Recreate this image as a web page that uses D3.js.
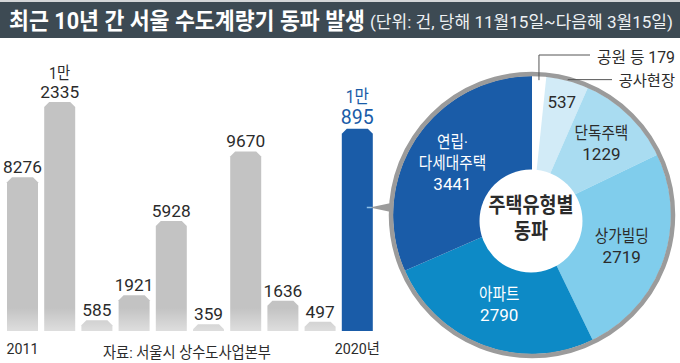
<!DOCTYPE html>
<html>
<head>
<meta charset="utf-8">
<script src="https://cdn.jsdelivr.net/npm/d3@7"></script>
<style>
  body { margin: 0; background: #fff; }
  svg { display: block; font-family: Roboto, "Noto Sans CJK KR", sans-serif; }
</style>
</head>
<body>
<svg id="chart" width="680" height="363"></svg>
<script>
// yearly counts, winter season
const years = ["2011", "2012", "2013", "2014", "2015", "2016", "2017", "2018", "2019", "2020"];
const counts = [8276, 12335, 585, 1921, 5928, 359, 9670, 1636, 497, 10895];
const yearLabels = { "2011": "2011", "2020": "2020년" };

// 2020 breakdown by building type
const types = ["공원 등", "공사현장", "단독주택", "상가빌딩", "아파트", "연립·다세대주택"];
const typeCounts = [179, 537, 1229, 2719, 2790, 3441];
const typeColors = ["#ffffff", "#d2ebf7", "#a9dcf1", "#80cdec", "#0d8ac6", "#1a5ca8"];

const title = "최근 10년 간 서울 수도계량기 동파 발생";
const subtitle = "(단위: 건, 당해 11월15일~다음해 3월15일)";
const source = "자료: 서울시 상수도사업본부";

const svg = d3.select("#chart");
const dark = "#2b2b2b";
const blue = "#1a5ca8";

// the original face is a narrow gothic, squeeze hangul a bit
function squeeze(sel, k) {
  sel.each(function() {
    const w = this.getComputedTextLength();
    d3.select(this).attr("textLength", w * k).attr("lengthAdjust", "spacingAndGlyphs");
  });
}

// header band
svg.append("rect").attr("x", 0).attr("y", 0).attr("width", 680).attr("height", 2).attr("fill", "#d4d6d8");
svg.append("rect").attr("x", 0).attr("y", 2).attr("width", 680).attr("height", 36).attr("fill", "#3d4a53");
svg.append("text").attr("x", 9).attr("y", 29)
  .attr("font-size", 23).attr("font-weight", 700).attr("fill", "#fff")
  .attr("textLength", 356).attr("lengthAdjust", "spacingAndGlyphs")
  .text(title);
svg.append("text").attr("x", 370).attr("y", 28)
  .attr("font-size", 16.5).attr("fill", "#eef1f3")
  .attr("textLength", 303).attr("lengthAdjust", "spacingAndGlyphs")
  .text(subtitle);

// ---- bars ----
const base = 331;
const x = d3.scaleBand().domain(years).range([7, 372.8]).paddingInner(0.1667).paddingOuter(0);
const y = d3.scaleLinear().domain([0, d3.max(counts)]).range([base, 102]);
const cut = 5;

const defs = svg.append("defs");
const haze = defs.append("linearGradient").attr("id", "haze")
  .attr("x1", 0).attr("x2", 0).attr("y1", 0).attr("y2", 1);
haze.append("stop").attr("offset", "0%").attr("stop-color", "#fff").attr("stop-opacity", 0);
haze.append("stop").attr("offset", "100%").attr("stop-color", "#fff").attr("stop-opacity", 0.45);

function barPath(d, i) {
  const x0 = x(years[i]), w = x.bandwidth(), t = y(d);
  const c = Math.min(cut, (base - t));
  return `M${x0},${base}L${x0},${t + c}L${x0 + c},${t}L${x0 + w - c},${t}L${x0 + w},${t + c}L${x0 + w},${base}Z`;
}

const last = counts.length - 1;
svg.append("g").selectAll("path").data(counts).join("path")
  .attr("d", barPath)
  .attr("fill", (d, i) => i === last ? blue : "#c3c3c3");

svg.append("rect").attr("x", 0).attr("y", 308).attr("width", x(years[last]) - 4)
  .attr("height", base - 308).attr("fill", "url(#haze)");

// value labels, 만 on its own line
const lbl = svg.append("g").attr("text-anchor", "middle");
counts.forEach((v, i) => {
  const cx = x(years[i]) + x.bandwidth() / 2;
  const hi = i === last;
  const fs = hi ? 19.5 : 17.3;
  const col = hi ? blue : dark;
  const t = y(v) - (hi ? 5 : 4);
  if (v >= 10000) {
    lbl.append("text").attr("x", cx).attr("y", t).attr("font-size", fs).attr("fill", col).text(String(v % 10000));
    lbl.append("text").attr("x", cx).attr("y", t - (hi ? 21 : 19.5)).attr("font-size", hi ? 18 : 16.5).attr("fill", col)
      .text(Math.floor(v / 10000) + "만")
      .call(squeeze, 0.87);
  } else {
    lbl.append("text").attr("x", cx).attr("y", t).attr("font-size", fs).attr("fill", col).text(String(v));
  }
});

svg.append("g").attr("text-anchor", "middle").selectAll("text")
  .data(years.filter(d => yearLabels[d])).join("text")
  .attr("x", d => x(d) + x.bandwidth() / 2).attr("y", 354)
  .attr("font-size", 15).attr("fill", dark)
  .text(d => yearLabels[d])
  .call(squeeze, 0.95);

svg.append("text").attr("x", 187).attr("y", 358).attr("text-anchor", "middle")
  .attr("font-size", 15.5).attr("fill", dark).text(source)
  .call(squeeze, 0.92);

// ---- donut ----
const cx = 532, cy = 215, R = 139;
const pie = d3.pie().sort(null).value(d => d.v);
const slices = pie(types.map((t, i) => ({ t, v: typeCounts[i], c: typeColors[i] })));
const arc = d3.arc().innerRadius(0).outerRadius(R);

// pointer from the 2020 bar to the donut
const px = x(years[last]) + x.bandwidth();
svg.append("path")
  .attr("d", `M${px - 3},${cy - 7.5}L${cx - R - 2},${cy - 12}L${cx - R - 2},${cy - 3}Z`)
  .attr("fill", "#9b9b9b");
svg.append("line").attr("x1", px - 6).attr("x2", px - 1).attr("y1", cy - 7.5).attr("y2", cy - 7.5)
  .attr("stroke", "#8fc0e8").attr("stroke-width", 1.5);

const pg = svg.append("g").attr("transform", `translate(${cx},${cy})`);
pg.selectAll("path").data(slices).join("path")
  .attr("d", arc).attr("fill", d => d.data.c);
pg.append("circle").attr("r", R + 2).attr("fill", "none")
  .attr("stroke", "#9b9b9b").attr("stroke-width", 4.5);
pg.append("circle").attr("cx", -1).attr("cy", 6).attr("r", 51.5).attr("fill", "#fff");

const centerText = pg.append("text").attr("text-anchor", "middle")
  .attr("font-size", 21).attr("font-weight", 700).attr("fill", dark);
centerText.append("tspan").attr("x", -1).attr("y", -3).text("주택유형별");
centerText.append("tspan").attr("x", -1).attr("y", 23).text("동파");
centerText.selectAll("tspan").call(squeeze, 0.88);

// inside labels
const total = d3.sum(typeCounts);
const inner = slices.filter(d => d.index > 0);
inner.forEach(d => {
  const share = d.data.v / total;
  const r = share < 0.08 && d.index === 1 ? 117 : (d.index === 2 ? 100 : 95);
  const [lx, ly] = d3.arc().innerRadius(r).outerRadius(r).centroid(d);
  const col = d.index >= 4 ? "#fff" : dark;
  let lines;
  if (d.index === 1) lines = [String(d.data.v)];
  else if (d.data.t.includes("·")) lines = ["연립·", "다세대주택", String(d.data.v)];
  else lines = [d.data.t, String(d.data.v)];
  const lh = 21;
  const t = pg.append("text").attr("text-anchor", "middle").attr("fill", col);
  lines.forEach((s, k) => {
    const num = /^\d+$/.test(s);
    const ts = t.append("tspan").attr("x", lx).attr("y", ly + 6 + (k - (lines.length - 1) / 2) * lh)
      .attr("font-size", 17).text(s);
    if (!num) ts.call(squeeze, 0.86);
  });
});

// leader labels at the top
const s0 = slices[0], s1 = slices[1];
const a0 = (s0.startAngle + s0.endAngle) / 2;
const a1 = (s1.startAngle + s1.endAngle) / 2;
const p0 = [cx + 135 * Math.sin(a0), cy - 135 * Math.cos(a0)];
const p1 = [cx + 140 * Math.sin(a1), cy - 140 * Math.cos(a1)];
svg.append("path").attr("d", `M${p0[0]},${p0[1]}L${p0[0]},55L590,55`)
  .attr("fill", "none").attr("stroke", "#555").attr("stroke-width", 1);
svg.append("path").attr("d", `M${p1[0]},${p1[1]}L612,${p1[1]}`)
  .attr("fill", "none").attr("stroke", "#555").attr("stroke-width", 1);
svg.append("text").attr("x", 675).attr("y", 63).attr("text-anchor", "end")
  .attr("font-size", 15.8).attr("fill", dark).text(`${s0.data.t} ${s0.data.v}`);
svg.append("text").attr("x", 675).attr("y", 86).attr("text-anchor", "end")
  .attr("font-size", 15.3).attr("fill", dark).text(s1.data.t);
</script>
</body>
</html>
